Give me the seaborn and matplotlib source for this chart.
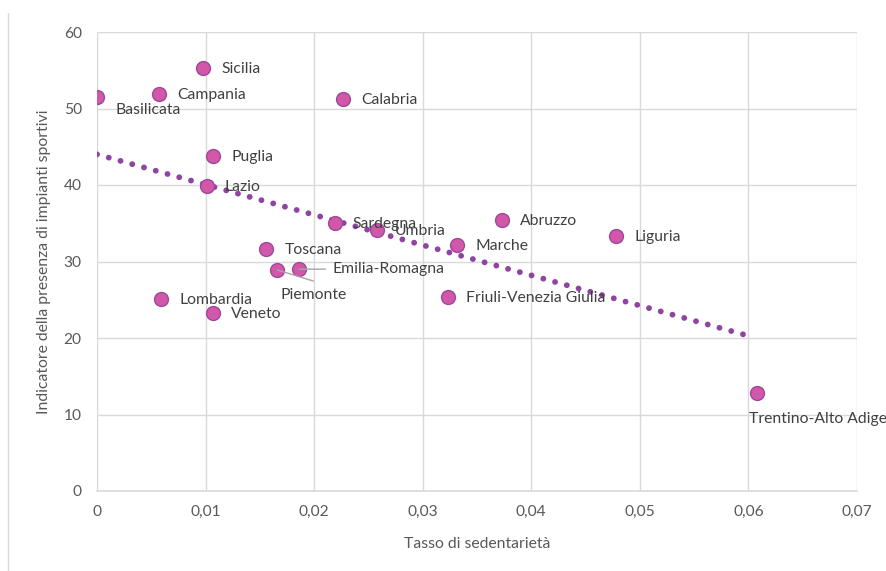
import numpy as np
import pandas as pd
import matplotlib
matplotlib.use("Agg")
import matplotlib.pyplot as plt
from matplotlib.ticker import FuncFormatter, MultipleLocator
import seaborn as sns

regions = ["Basilicata", "Campania", "Sicilia", "Calabria", "Puglia", "Lazio",
           "Sardegna", "Umbria", "Abruzzo", "Marche", "Liguria", "Toscana",
           "Emilia-Romagna", "Piemonte", "Lombardia", "Veneto",
           "Friuli-Venezia Giulia", "Trentino-Alto Adige"]
sedentarieta = [0.0000, 0.0057, 0.0098, 0.0227, 0.0107, 0.0101,
                0.0219, 0.0258, 0.0373, 0.0332, 0.0478, 0.0156,
                0.0186, 0.0166, 0.0059, 0.0107, 0.0323, 0.0608]
impianti = [51.5, 51.9, 55.3, 51.2, 43.8, 39.9,
            35.0, 34.1, 35.4, 32.2, 33.3, 31.6,
            29.0, 28.9, 25.1, 23.3, 25.4, 12.8]
trend_range = [0.0, 0.06]

df = pd.DataFrame({"regione": regions, "x": sedentarieta, "y": impianti})

sns.set_theme(style="white")
plt.rcParams["font.family"] = ["Lato", "DejaVu Sans"]

fig = plt.figure(figsize=(8.86, 5.71), dpi=100)
ax = fig.add_axes([97/886, 1 - 491/571, 760/886, 459/571])

grid_c = "#D9D9D9"
ax.set_xlim(0, 0.07)
ax.set_ylim(0, 60)
ax.xaxis.set_major_locator(MultipleLocator(0.01))
ax.yaxis.set_major_locator(MultipleLocator(10))
ax.grid(True, color=grid_c, linewidth=1.0)
ax.set_axisbelow(True)
for s in ax.spines.values():
    s.set_visible(False)
ax.spines["bottom"].set_visible(True)
ax.spines["bottom"].set_color(grid_c)
ax.spines["bottom"].set_linewidth(1.2)

fmt = FuncFormatter(lambda v, p: f"{v:g}".replace(".", ","))
ax.xaxis.set_major_formatter(fmt)
ax.tick_params(axis="both", length=0, labelsize=11.2, labelcolor="#595959")
ax.tick_params(axis="x", pad=10)
ax.tick_params(axis="y", pad=11)

# trendline (linear least squares)
slope, intercept = np.polyfit(df["x"], df["y"], 1)
tx = np.array(trend_range)
ax.plot(tx, intercept + slope * tx, color="#8E44A0", linewidth=4.2,
        linestyle=(0, (0.01, 2.08)), dash_capstyle="round", zorder=2)

sns.scatterplot(data=df, x="x", y="y", ax=ax, s=100, color="#D257A8",
                edgecolor="#9A4A9C", linewidth=1.0, zorder=3, legend=False)

offsets = {
    "Basilicata": (13, -9, "left"),
    "Piemonte": (26, -18, "center"),
    "Emilia-Romagna": (24, 0, "left"),
    "Trentino-Alto Adige": (-6, -19, "left"),
}
for r, xv, yv in zip(regions, sedentarieta, impianti):
    dx, dy, ha = offsets.get(r, (13, -0.7, "left"))
    ax.annotate(r, (xv, yv), xytext=(dx, dy), textcoords="offset points",
                ha=ha, va="center", fontsize=11.3, color="#404040",
                annotation_clip=False, zorder=4)

# leader lines
px = df.set_index("regione")
ax.annotate("", (px.loc["Emilia-Romagna", "x"], px.loc["Emilia-Romagna", "y"]),
            xytext=(19, 0), textcoords="offset points",
            arrowprops=dict(arrowstyle="-", color="#A6A6A6", lw=1.0, shrinkA=0, shrinkB=0))
ax.annotate("", (px.loc["Piemonte", "x"], px.loc["Piemonte", "y"]),
            xytext=(26, -8), textcoords="offset points",
            arrowprops=dict(arrowstyle="-", color="#A6A6A6", lw=1.0, shrinkA=0, shrinkB=0))

ax.set_xlabel("Tasso di sedentarietà", fontsize=11.3, color="#595959", labelpad=13)
ax.set_ylabel("Indicatore della presenza di impianti sportivi", fontsize=11.3,
              color="#595959", labelpad=9)

fig.add_artist(plt.Line2D([8/886, 8/886], [0, 1 - 13/571], color=grid_c, lw=1.0))

fig.savefig("out.png", dpi=100)
